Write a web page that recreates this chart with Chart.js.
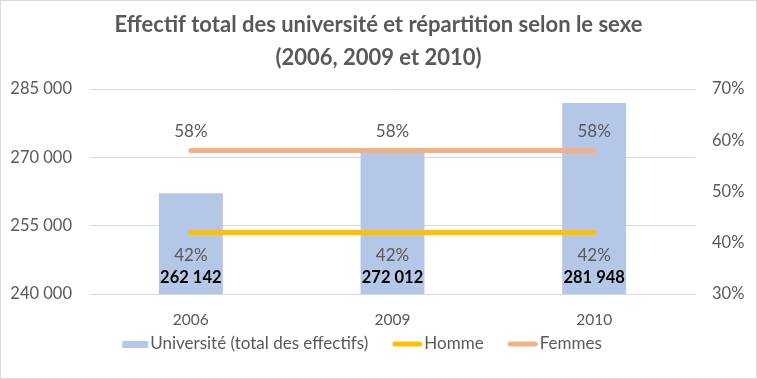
<!DOCTYPE html>
<html>
<head>
<meta charset="utf-8">
<script src="https://cdn.jsdelivr.net/npm/chart.js@4/dist/chart.umd.min.js"></script>
<style>
html,body{margin:0;padding:0;background:#fff;}
#wrap{position:relative;width:755px;height:377px;border:1px solid #d9d9d9;}
canvas{display:block;}
</style>
</head>
<body>
<div id="wrap"><canvas id="c" width="755" height="377"></canvas></div>
<script>
const years = ['2006', '2009', '2010'];
const universite = [262142, 272012, 281948];
const homme = [0.42, 0.42, 0.42];
const femmes = [0.58, 0.58, 0.58];
const titleLines = ['Effectif total des université et répartition selon le sexe', '(2006, 2009 et 2010)'];
const seriesNames = ['Université (total des effectifs)', 'Homme', 'Femmes'];

const FONT = 'Lato, "Open Sans", sans-serif';
const GRAY = '#595959';
const BAR = '#B4C7E7';
const YEL = '#FFC000';
const PEACH = '#F4B183';

function fmtNum(v){ return String(v).replace(/\B(?=(\d{3})+(?!\d))/g, ' '); }
function fmtPct(v){ return Math.round(v*100) + '%'; }

const labelsPlugin = {
  id: 'labelsPlugin',
  afterDatasetsDraw(chart){
    const ctx = chart.ctx;
    ctx.save();
    ctx.textAlign = 'center';
    ctx.textBaseline = 'middle';
    const bottom = chart.chartArea.bottom;
    const barMeta = chart.getDatasetMeta(0);
    ctx.font = 'bold 16.5px ' + FONT;
    ctx.fillStyle = '#000';
    barMeta.data.forEach((el, i) => {
      ctx.fillText(fmtNum(chart.data.datasets[0].data[i]), el.x, bottom - 16);
    });
    ctx.font = '17px ' + FONT;
    ctx.fillStyle = GRAY;
    [1, 2].forEach(di => {
      const meta = chart.getDatasetMeta(di);
      const off = di === 2 ? -19 : 23;
      meta.data.forEach((el, i) => {
        ctx.fillText(fmtPct(chart.data.datasets[di].data[i]), el.x, el.y + off);
      });
    });
    ctx.restore();
  }
};

const legendPlugin = {
  id: 'customLegend',
  afterDraw(chart){
    const ctx = chart.ctx;
    ctx.save();
    ctx.font = '17px ' + FONT;
    ctx.textBaseline = 'middle';
    const y = 343;
    const items = [
      {type:'box', color: BAR, w: 26},
      {type:'line', color: YEL, w: 30},
      {type:'line', color: PEACH, w: 30}
    ];
    const gapSw = 2, gapItem = 24;
    let total = 0;
    items.forEach((it, i) => { it.tw = ctx.measureText(seriesNames[i]).width; total += it.w + gapSw + it.tw; });
    total += gapItem * (items.length - 1);
    let x = 361 - total / 2;
    items.forEach((it, i) => {
      if (it.type === 'box') {
        ctx.fillStyle = it.color;
        ctx.fillRect(x, y - 3, it.w, 7);
      } else {
        ctx.strokeStyle = it.color;
        ctx.lineWidth = 5;
        ctx.lineCap = 'round';
        ctx.beginPath();
        ctx.moveTo(x + 2.5, y);
        ctx.lineTo(x + it.w - 2.5, y);
        ctx.stroke();
      }
      x += it.w + gapSw;
      ctx.fillStyle = GRAY;
      ctx.fillText(seriesNames[i], x, y);
      x += it.tw + gapItem;
    });
    ctx.restore();
  }
};

new Chart(document.getElementById('c'), {
  data: {
    labels: years,
    datasets: [
      {type: 'bar', label: seriesNames[0], data: universite, backgroundColor: BAR, yAxisID: 'y',
       barPercentage: 1, categoryPercentage: 0.317, order: 3},
      {type: 'line', label: seriesNames[1], data: homme, borderColor: YEL, borderWidth: 5,
       borderCapStyle: 'round', pointRadius: 0, yAxisID: 'y1', order: 1},
      {type: 'line', label: seriesNames[2], data: femmes, borderColor: PEACH, borderWidth: 5,
       borderCapStyle: 'round', pointRadius: 0, yAxisID: 'y1', order: 2}
    ]
  },
  options: {
    responsive: false,
    animation: false,
    layout: {padding: {left: 0, right: 0, top: 0, bottom: 0}},
    plugins: {
      legend: {display: false},
      tooltip: {enabled: false},
      title: {
        display: true,
        text: titleLines,
        color: GRAY,
        font: {family: FONT, size: 22, weight: 'bold', lineHeight: 1.5},
        padding: {top: 7, bottom: 15}
      }
    },
    scales: {
      x: {
        grid: {display: false},
        border: {display: false},
        ticks: {color: GRAY, font: {family: FONT, size: 15.5}, padding: 9},
        afterFit(s){ s.height = 84; }
      },
      y: {
        position: 'left',
        min: 240000, max: 285000,
        grid: {color: '#d9d9d9', drawTicks: false},
        border: {display: false},
        ticks: {stepSize: 15000, color: GRAY, font: {family: FONT, size: 16.5}, padding: 18,
                callback: v => fmtNum(v)},
        afterFit(s){ s.width = 89; }
      },
      y1: {
        position: 'right',
        min: 0.3, max: 0.7,
        grid: {display: false, drawTicks: false},
        border: {display: false},
        ticks: {stepSize: 0.1, color: GRAY, font: {family: FONT, size: 16.5}, padding: 17,
                callback: v => fmtPct(v)},
        afterFit(s){ s.width = 61; }
      }
    }
  },
  plugins: [labelsPlugin, legendPlugin]
});
</script>
</body>
</html>
